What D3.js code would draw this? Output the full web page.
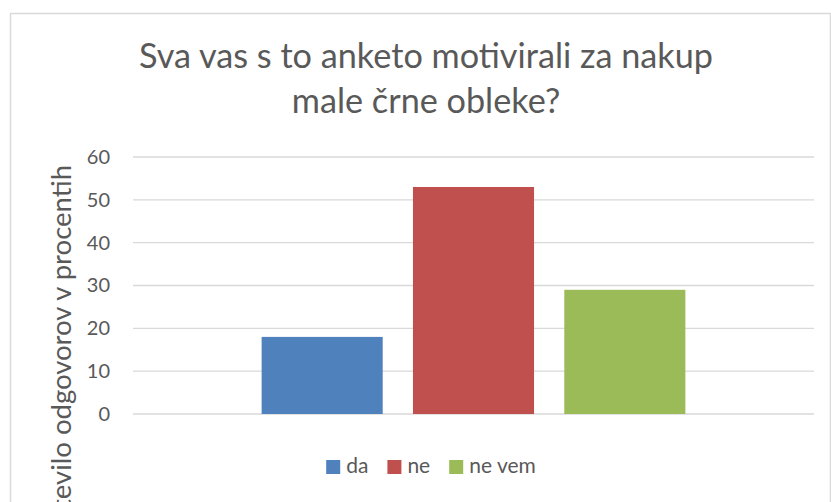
<!DOCTYPE html>
<html>
<head>
<meta charset="utf-8">
<script src="https://cdn.jsdelivr.net/npm/d3@7"></script>
<style>
  html, body { margin: 0; padding: 0; background: #fff; }
  svg { display: block; font-family: Lato, "Open Sans", sans-serif; }
</style>
</head>
<body>
<svg id="chart" width="831" height="502"></svg>
<script>
const categories = [''];
const series = ['da', 'ne', 'ne vem'];
const values = [18, 53, 29];
const colors = ['#4f81bd', '#c0504d', '#9bbb59'];
const yTicks = [0, 10, 20, 30, 40, 50, 60];
const titleLines = ['Sva vas s to anketo motivirali za nakup', 'male črne obleke?'];
const yTitle = 'Število odgovorov v procentih';

const margin = {top: 157, right: 17, bottom: 88, left: 133},
  width = 831 - margin.left - margin.right,
  height = 502 - margin.top - margin.bottom;

const svg = d3.select('#chart');

// chart frame
svg.append('rect')
  .attr('x', 10.5)
  .attr('y', 13.5)
  .attr('width', 820)
  .attr('height', 520)
  .attr('fill', 'none')
  .attr('stroke', '#d9d9d9')
  .attr('stroke-width', 1.5);

const chart = svg.append('g')
  .attr('transform', `translate(${margin.left},${margin.top})`);

const x0 = d3.scaleBand()
  .domain(categories)
  .range([0, width])
  .paddingInner(0)
  .paddingOuter(0.25);

const x1 = d3.scaleBand()
  .domain(series)
  .range([0, x0.bandwidth()])
  .paddingInner(0.2)
  .paddingOuter(0.1);

const y = d3.scaleLinear()
  .domain([0, 60])
  .range([height, 0]);

// gridlines
chart.append('g')
  .selectAll('line')
  .data(yTicks)
  .enter().append('line')
  .attr('x1', 0)
  .attr('x2', width)
  .attr('y1', (d) => y(d))
  .attr('y2', (d) => y(d))
  .attr('stroke', '#d9d9d9')
  .attr('stroke-width', 1.4);

// y axis labels
const yAxis = chart.append('g')
  .call(d3.axisLeft(y).tickValues(yTicks).tickSize(0).tickPadding(23));
yAxis.select('.domain').remove();
yAxis.selectAll('text')
  .attr('fill', '#595959')
  .style('font-size', '20px')
  .style('font-family', 'Lato, "Open Sans", sans-serif');

// bars
chart.append('g')
  .attr('transform', `translate(${x0(categories[0])},0)`)
  .selectAll('rect')
  .data(series)
  .enter().append('rect')
  .attr('x', (d) => x1(d))
  .attr('y', (d, i) => y(values[i]))
  .attr('width', x1.bandwidth())
  .attr('height', (d, i) => height - y(values[i]))
  .attr('fill', (d, i) => colors[i]);

// title
const title = svg.append('text')
  .attr('text-anchor', 'middle')
  .attr('fill', '#595959')
  .style('font-size', '36px');
title.selectAll('tspan')
  .data(titleLines)
  .enter().append('tspan')
  .attr('x', 426)
  .attr('y', (d, i) => 68 + i * 45)
  .text((d) => d);
// fit first line to its width in the picture
const w1 = title.select('tspan').node().getComputedTextLength();
title.style('font-size', (36 * 574 / w1) + 'px');

// y axis title (clipped by the window at the bottom)
svg.append('text')
  .attr('transform', 'translate(71,165) rotate(-90)')
  .attr('text-anchor', 'end')
  .attr('fill', '#595959')
  .style('font-size', '27.5px')
  .text(yTitle);

// legend
const legend = svg.append('g');
const items = legend.selectAll('g')
  .data(series)
  .enter().append('g');
items.append('rect')
  .attr('width', 14)
  .attr('height', 14)
  .attr('y', 460)
  .attr('fill', (d, i) => colors[i]);
items.append('text')
  .attr('x', 20)
  .attr('y', 473)
  .attr('fill', '#595959')
  .style('font-size', '21px')
  .text((d) => d);
let pos = 0;
items.each(function() {
  const g = d3.select(this);
  g.attr('transform', `translate(${pos},0)`);
  pos += 20 + g.select('text').node().getComputedTextLength() + 19;
});
const legendWidth = pos - 19;
legend.attr('transform', `translate(${431 - legendWidth / 2},0)`);
</script>
</body>
</html>
